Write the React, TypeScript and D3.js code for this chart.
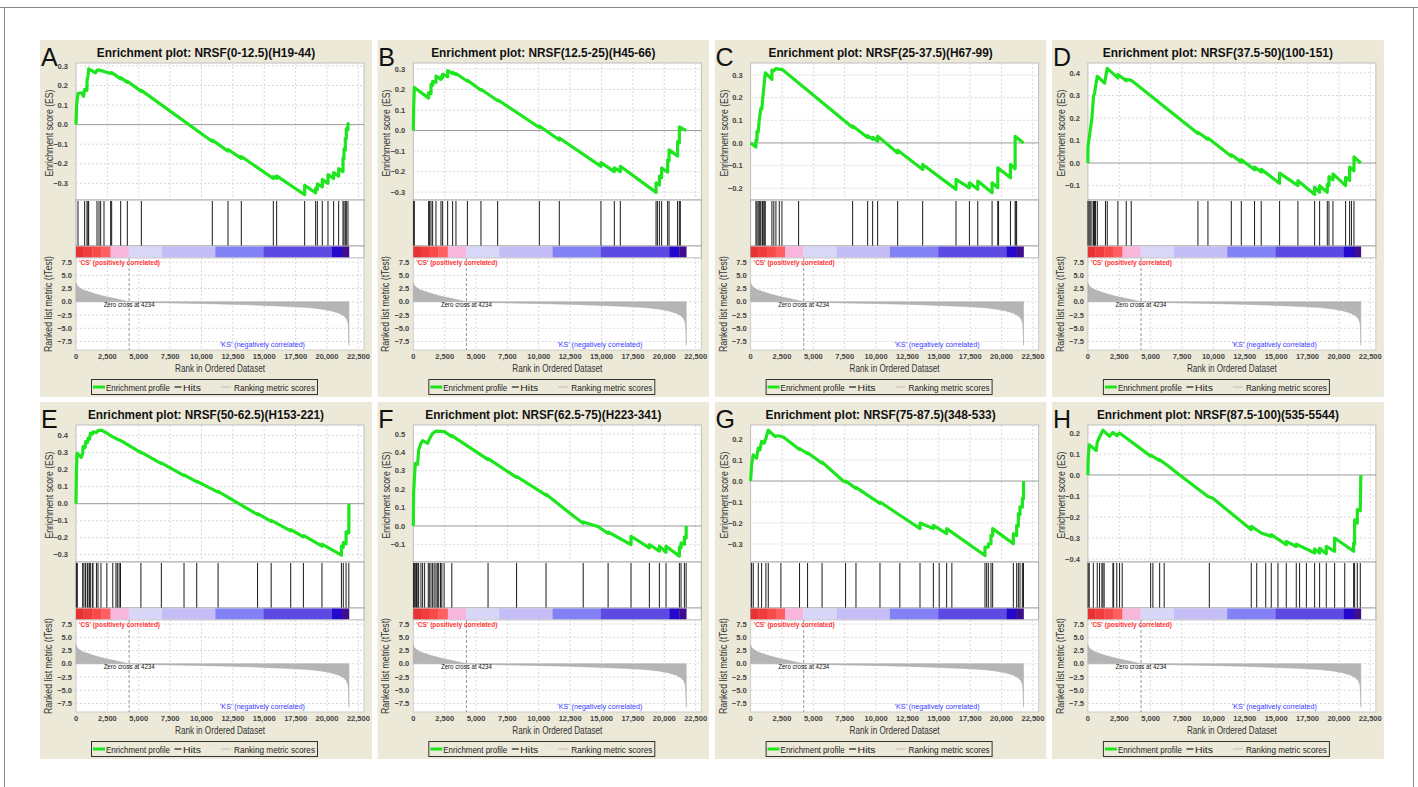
import React from 'react';
import * as d3 from 'd3';

const W = 1418;
const H = 787;
const FONT = '"Liberation Sans", Arial, Helvetica, sans-serif';

// ranked list (shared by all panels)
const N_GENES = 21750;
const X_MAX = 22950;
const ZERO_CROSS = 4234;
const X_TICKS = [0, 2500, 5000, 7500, 10000, 12500, 15000, 17500, 20000, 22500];
const METRIC_TICKS = [7.5, 5, 2.5, 0, -2.5, -5, -7.5];
const METRIC_RANKS = [0, 50, 200, 500, 1000, 1500, 2000, 2500, 3000, 3500, 4234, 5000, 6500, 8500, 10500, 12800, 15000, 17000, 18500, 19500, 20300, 20900, 21300, 21550, 21680, 21720, 21750];
const METRIC_VALUES = [3.6, 3.2, 2.8, 2.3, 1.9, 1.5, 1.2, 0.9, 0.65, 0.4, 0, -0.1, -0.18, -0.26, -0.36, -0.5, -0.68, -0.9, -1.1, -1.35, -1.7, -2.1, -2.6, -3.2, -4.0, -5.5, -8.2];

const BAND_EDGES = [0, 600, 1300, 2000, 2750, 4200, 6850, 11100, 14950, 20400, 21200, 21750];
const BAND_COLORS = ['#e63232', '#f03c3c', '#f94a4a', '#ff5f5f', '#f9b6dc', '#d9d7f8', '#c5bdf6', '#8282f6', '#5c4ae2', '#2408cc', '#3e0e8e'];

const LETTERS = ['A', 'B', 'C', 'D', 'E', 'F', 'G', 'H'];
const TITLES = [
  'Enrichment plot: NRSF(0-12.5)(H19-44)',
  'Enrichment plot: NRSF(12.5-25)(H45-66)',
  'Enrichment plot: NRSF(25-37.5)(H67-99)',
  'Enrichment plot: NRSF(37.5-50)(100-151)',
  'Enrichment plot: NRSF(50-62.5)(H153-221)',
  'Enrichment plot: NRSF(62.5-75)(H223-341)',
  'Enrichment plot: NRSF(75-87.5)(348-533)',
  'Enrichment plot: NRSF(87.5-100)(535-5544)',
];

const ES_DOMAINS = [
  [-0.385, 0.315], [-0.338, 0.329], [-0.252, 0.353], [-0.164, 0.444],
  [-0.343, 0.463], [-0.196, 0.549], [-0.386, 0.267], [-0.414, 0.238],
];
const ES_TICKS = [
  [-0.3, -0.2, -0.1, 0, 0.1, 0.2, 0.3],
  [-0.3, -0.2, -0.1, 0, 0.1, 0.2, 0.3],
  [-0.2, -0.1, 0, 0.1, 0.2, 0.3],
  [-0.1, 0, 0.1, 0.2, 0.3, 0.4],
  [-0.3, -0.2, -0.1, 0, 0.1, 0.2, 0.3, 0.4],
  [-0.1, 0, 0.1, 0.2, 0.3, 0.4, 0.5],
  [-0.3, -0.2, -0.1, 0, 0.1, 0.2],
  [-0.4, -0.3, -0.2, -0.1, 0, 0.1, 0.2],
];

// running enrichment score, [rank, ES]
const ES_A = [[0, 0], [50, 0.10], [160, 0.16], [450, 0.163], [600, 0.145], [690, 0.18], [870, 0.175], [880, 0.225], [960, 0.25], [1010, 0.285], [1560, 0.265], [1673, 0.278], [1833, 0.28], [1965, 0.276], [2231, 0.272], [2762, 0.262], [2842, 0.266], [3559, 0.234], [3559, 0.24], [4090, 0.216], [4090, 0.222], [5206, 0.17], [5206, 0.175], [10863, -0.086], [10863, -0.079], [12112, -0.135], [12112, -0.127], [13174, -0.172], [13174, -0.163], [15724, -0.275], [15724, -0.265], [15990, -0.275], [15990, -0.262], [18221, -0.358], [18221, -0.31], [19097, -0.348], [19097, -0.326], [19230, -0.332], [19230, -0.302], [19628, -0.318], [19628, -0.28], [20080, -0.3], [20080, -0.255], [20531, -0.275], [20531, -0.245], [20930, -0.263], [20930, -0.225], [21275, -0.24], [21275, -0.17], [21355, -0.174], [21355, -0.125], [21461, -0.13], [21461, -0.07], [21540, -0.074], [21540, -0.02], [21673, -0.026], [21673, 0.005], [21750, 0]];
const ES_B = [[0, 0], [30, 0.105], [80, 0.21], [1222, 0.158], [1222, 0.185], [1410, 0.18], [1410, 0.225], [1540, 0.22], [1540, 0.24], [1807, 0.235], [1807, 0.265], [2205, 0.249], [2205, 0.262], [2340, 0.257], [2340, 0.275], [2737, 0.262], [2737, 0.292], [3134, 0.277], [3134, 0.283], [3400, 0.272], [3400, 0.278], [4310, 0.24], [4310, 0.245], [5393, 0.196], [5393, 0.201], [6721, 0.145], [6721, 0.15], [10044, 0.015], [10044, 0.022], [11634, -0.046], [11634, -0.036], [14955, -0.174], [14955, -0.156], [16019, -0.2], [16019, -0.182], [16497, -0.2], [16497, -0.174], [19343, -0.301], [19343, -0.254], [19610, -0.265], [19610, -0.222], [19790, -0.23], [19790, -0.182], [20270, -0.202], [20270, -0.142], [20380, -0.146], [20380, -0.094], [21060, -0.124], [21060, -0.054], [21200, -0.06], [21200, 0.018], [21750, 0]];
const ES_C = [[0, 0], [425, -0.018], [425, 0.012], [505, 0.01], [505, 0.051], [600, 0.047], [690, 0.102], [824, 0.154], [900, 0.15], [956, 0.19], [1089, 0.264], [1169, 0.31], [1700, 0.281], [1700, 0.322], [1850, 0.318], [2019, 0.329], [2285, 0.325], [2497, 0.325], [8131, 0.068], [8131, 0.075], [9327, 0.024], [9327, 0.032], [9726, 0.016], [9726, 0.025], [10124, 0.008], [10124, 0.03], [11719, -0.044], [11719, -0.032], [13713, -0.117], [13713, -0.095], [16370, -0.205], [16370, -0.161], [17438, -0.198], [17438, -0.176], [18102, -0.205], [18102, -0.168], [19244, -0.22], [19244, -0.176], [19696, -0.198], [19696, -0.11], [20707, -0.154], [20707, -0.095], [21079, -0.114], [21079, 0.029], [21750, 0]];
const ES_D = [[0, 0], [10, 0.072], [185, 0.146], [320, 0.2], [450, 0.296], [530, 0.31], [610, 0.34], [750, 0.385], [1328, 0.355], [1541, 0.42], [2391, 0.378], [2391, 0.393], [3055, 0.365], [3055, 0.372], [3454, 0.367], [8768, 0.131], [8768, 0.137], [9566, 0.105], [9566, 0.111], [11426, 0.03], [11426, 0.037], [12223, 0.004], [12223, 0.015], [13279, -0.03], [13279, -0.018], [13811, -0.04], [13811, -0.028], [15276, -0.09], [15276, -0.045], [16737, -0.1], [16737, -0.078], [18066, -0.14], [18066, -0.107], [18465, -0.13], [18465, -0.1], [19076, -0.13], [19076, -0.095], [19209, -0.1], [19209, -0.06], [19528, -0.074], [19528, -0.048], [20537, -0.1], [20537, -0.063], [20856, -0.077], [20856, -0.018], [21202, -0.034], [21202, 0.027], [21750, 0]];
const ES_E = [[0, 0], [30, 0.18], [90, 0.297], [425, 0.273], [543, 0.3], [558, 0.336], [723, 0.33], [770, 0.365], [904, 0.36], [956, 0.384], [1085, 0.38], [1142, 0.414], [1302, 0.41], [1355, 0.423], [1628, 0.418], [1753, 0.43], [2019, 0.433], [2460, 0.415], [2683, 0.404], [2930, 0.393], [3347, 0.378], [3545, 0.372], [5172, 0.3], [5172, 0.304], [6801, 0.236], [6801, 0.24], [8608, 0.165], [8608, 0.17], [9621, 0.128], [9621, 0.132], [10257, 0.108], [11321, 0.068], [11321, 0.073], [13447, -0.02], [14468, -0.064], [14468, -0.058], [15553, -0.104], [15553, -0.098], [17108, -0.16], [17108, -0.152], [18121, -0.195], [18121, -0.187], [19600, -0.25], [19600, -0.238], [21150, -0.303], [21150, -0.25], [21300, -0.256], [21300, -0.228], [21520, -0.236], [21520, -0.165], [21740, -0.172], [21750, 0]];
const ES_F = [[0, 0], [27, 0.179], [80, 0.25], [159, 0.34], [345, 0.335], [425, 0.413], [611, 0.45], [744, 0.464], [1142, 0.45], [1275, 0.471], [1541, 0.504], [1807, 0.516], [2471, 0.513], [3069, 0.486], [3069, 0.491], [5957, 0.361], [5957, 0.366], [8231, 0.264], [8231, 0.269], [10177, 0.185], [10578, 0.167], [10578, 0.172], [12833, 0.05], [13538, 0.015], [13538, 0.022], [14693, -0.003], [15523, -0.04], [15523, -0.033], [17350, -0.101], [17350, -0.056], [18811, -0.119], [18811, -0.101], [19608, -0.137], [19608, -0.11], [20140, -0.143], [20140, -0.11], [21203, -0.164], [21203, -0.115], [21336, -0.12], [21336, -0.092], [21602, -0.1], [21602, -0.06], [21740, -0.066], [21750, 0]];
const ES_G = [[0, 0], [80, 0.077], [213, 0.125], [478, 0.109], [611, 0.157], [744, 0.149], [877, 0.189], [1089, 0.181], [1222, 0.205], [1408, 0.242], [1940, 0.213], [2205, 0.216], [2604, 0.21], [3900, 0.15], [3900, 0.155], [4541, 0.13], [4541, 0.135], [5694, 0.085], [5694, 0.09], [7385, 0.0], [7568, -0.005], [7568, 0.0], [8397, -0.035], [8397, -0.03], [9911, -0.091], [10310, -0.107], [10310, -0.1], [11900, -0.163], [13500, -0.227], [13500, -0.2], [14563, -0.227], [14563, -0.211], [15623, -0.251], [15623, -0.227], [18678, -0.355], [18678, -0.315], [18944, -0.315], [18944, -0.299], [19156, -0.3], [19156, -0.259], [19290, -0.26], [19290, -0.227], [20937, -0.299], [20937, -0.251], [21203, -0.26], [21203, -0.211], [21336, -0.215], [21336, -0.155], [21469, -0.16], [21469, -0.123], [21655, -0.125], [21655, -0.083], [21745, -0.085], [21750, 0]];
const ES_H = [[0, 0], [20, 0.073], [106, 0.144], [664, 0.117], [744, 0.155], [930, 0.181], [1196, 0.213], [1727, 0.184], [1993, 0.203], [2311, 0.187], [2524, 0.2], [5000, 0.09], [5000, 0.095], [5719, 0.068], [5719, 0.073], [6376, 0.044], [7306, 0.0], [9564, -0.102], [9700, -0.105], [9963, -0.111], [13018, -0.26], [13018, -0.244], [13815, -0.276], [14612, -0.292], [14612, -0.284], [15808, -0.332], [15808, -0.316], [16605, -0.34], [16605, -0.329], [18066, -0.371], [18066, -0.352], [18465, -0.371], [18465, -0.348], [18996, -0.375], [18996, -0.34], [19661, -0.363], [19661, -0.3], [21175, -0.363], [21175, -0.324], [21255, -0.33], [21255, -0.213], [21467, -0.229], [21467, -0.165], [21706, -0.17], [21750, 0]];

// gene set members (ranks)
const HITS_A = [159, 690, 876, 956, 1009, 1673, 1833, 1965, 2231, 2762, 2842, 3559, 4090, 5206, 10863, 12112, 13174, 15724, 15990, 18221, 19097, 19230, 19628, 20080, 20531, 20930, 21275, 21355, 21461, 21540, 21673];
const HITS_B = [30, 80, 1222, 1300, 1410, 1540, 1807, 2205, 2340, 2737, 3134, 3400, 4310, 5393, 6721, 10044, 11634, 14955, 16019, 16497, 19343, 19450, 19610, 19790, 20270, 20380, 21060, 21200, 21280];
const HITS_C = [425, 505, 600, 690, 760, 824, 956, 1000, 1089, 1169, 1700, 1850, 2019, 2285, 2497, 3826, 8131, 9327, 9726, 10124, 11719, 13713, 16370, 17438, 18102, 19244, 19696, 19760, 20707, 21079, 21140, 21200];
const HITS_D = [10, 100, 185, 320, 450, 530, 610, 750, 1400, 1541, 2391, 3055, 3454, 8768, 9566, 11426, 12223, 13279, 13811, 15276, 16737, 18066, 18465, 19076, 19209, 19528, 20537, 20856, 21000, 21202];
const HITS_E = [30, 108, 543, 558, 723, 770, 904, 956, 1085, 1142, 1302, 1355, 1628, 1753, 1989, 2460, 2930, 3183, 3291, 3436, 3545, 5172, 6801, 8608, 9621, 11321, 14468, 15553, 17108, 18121, 19600, 21150, 21300, 21520, 21740];
const HITS_F = [27, 80, 159, 253, 361, 425, 611, 744, 903, 1191, 1275, 1408, 1541, 1661, 1807, 1913, 2022, 2166, 2274, 2455, 3069, 5957, 8231, 10578, 13538, 15523, 17350, 18811, 19608, 20140, 21203, 21336, 21602, 21740];
const HITS_G = [80, 213, 611, 877, 1222, 1408, 2415, 3900, 4541, 5694, 7568, 8397, 10310, 11893, 13500, 14563, 15029, 15623, 16038, 18678, 18811, 18944, 19156, 19290, 20937, 21203, 21336, 21469, 21655, 21745];
const HITS_H = [20, 106, 432, 744, 930, 1115, 1196, 1295, 1993, 2050, 2302, 2524, 2734, 5000, 5180, 5719, 6079, 9676, 13018, 13453, 14172, 14612, 15144, 15808, 16605, 16870, 17410, 18066, 18465, 18996, 19661, 20467, 21175, 21255, 21467, 21706];

const ES_SERIES = [ES_A, ES_B, ES_C, ES_D, ES_E, ES_F, ES_G, ES_H];
const HIT_SERIES = [HITS_A, HITS_B, HITS_C, HITS_D, HITS_E, HITS_F, HITS_G, HITS_H];

const BEIGE = '#ece9d9';
const GRID = '#d9d9d9';
const GREEN = '#1ee61e';

function Panel({ idx, px, py }) {
  const L = px + 36;
  const R = px + 324;
  const esTop = py + 23;
  const esBot = py + 160;
  const hitBot = py + 206;
  const barBot = py + 218;
  const metBot = py + 310;

  const x = d3.scaleLinear().domain([0, X_MAX]).range([L, R]);
  const y = d3.scaleLinear().domain(ES_DOMAINS[idx]).range([esBot, esTop]);
  const m = d3.scaleLinear().domain([-9.1, 8.26]).range([metBot, barBot]);

  const esLine = d3.line().x((d) => x(d[0])).y((d) => y(d[1]));
  const metArea = d3.area()
    .x((_, i) => x(METRIC_RANKS[i]))
    .y0(m(0))
    .y1((d) => m(d));

  const fmt = d3.format('.1f');
  const fmtX = d3.format(',');
  const clipId = `clip-${idx}`;
  const legY = py + 347;

  return (
    <g fontFamily={FONT}>
      <defs>
        <clipPath id={clipId}>
          <rect x={px} y={py} width={332} height={357} />
        </clipPath>
      </defs>
      <g clipPath={`url(#${clipId})`}>
        <rect x={px} y={py} width={332} height={357} fill={BEIGE} />
        <text x={px + 1} y={py + 26} fontSize={25} fill="#111">{LETTERS[idx]}</text>
        <text x={px + 166} y={py + 17} fontSize={13} fontWeight="bold" textAnchor="middle"
          textLength={TITLES[idx].length * 5.9} lengthAdjust="spacingAndGlyphs" fill="#111">
          {TITLES[idx]}
        </text>

        {/* ES plot */}
        <rect x={L} y={esTop} width={R - L} height={esBot - esTop} fill="#fff" stroke="#bdbdbd" />
        {X_TICKS.slice(1).map((t) => (
          <line key={`gx${t}`} x1={x(t)} x2={x(t)} y1={esTop} y2={esBot} stroke={GRID} strokeDasharray="2,2" />
        ))}
        {ES_TICKS[idx].map((t) => (
          <g key={`gy${t}`}>
            {t !== 0 && <line x1={L} x2={R} y1={y(t)} y2={y(t)} stroke={GRID} strokeDasharray="2,2" />}
            <text x={px + 28} y={y(t)} dy="0.35em" fontSize={7.5} fontWeight="bold" textAnchor="end" fill="#444">{fmt(t)}</text>
          </g>
        ))}
        <line x1={L} x2={R} y1={y(0)} y2={y(0)} stroke="#999" />
        <path d={esLine(ES_SERIES[idx])} fill="none" stroke={GREEN} strokeWidth={3.2} strokeLinejoin="round" />
        <text transform={`translate(${px + 13},${py + 93}) rotate(-90)`} fontSize={10} textAnchor="middle"
          textLength={87} lengthAdjust="spacingAndGlyphs" fill="#333">Enrichment score (ES)</text>

        {/* hits */}
        <rect x={L} y={esBot} width={R - L} height={hitBot - esBot} fill="#fff" stroke="#aaa" />
        {HIT_SERIES[idx].map((r, i) => (
          <line key={`h${i}`} x1={x(r)} x2={x(r)} y1={esBot + 1} y2={hitBot} stroke="#1a1a1a" strokeWidth={1} />
        ))}

        {/* ranked list colour bar */}
        <rect x={L} y={hitBot} width={R - L} height={barBot - hitBot} fill="#fff" stroke="#aaa" />
        {BAND_COLORS.map((c, i) => (
          <rect key={`b${i}`} x={x(BAND_EDGES[i])} y={hitBot + 0.5} width={x(BAND_EDGES[i + 1]) - x(BAND_EDGES[i]) + 0.3}
            height={barBot - hitBot - 1} fill={c} />
        ))}

        {/* ranked metric plot */}
        <rect x={L} y={barBot} width={R - L} height={metBot - barBot} fill="#fff" stroke="#ccc" />
        {X_TICKS.slice(1).map((t) => (
          <line key={`mx${t}`} x1={x(t)} x2={x(t)} y1={barBot} y2={metBot} stroke={GRID} strokeDasharray="2,2" />
        ))}
        {METRIC_TICKS.map((t) => (
          <g key={`my${t}`}>
            <line x1={L} x2={R} y1={m(t)} y2={m(t)} stroke={GRID} strokeDasharray="2,2" />
            <text x={px + 32} y={m(t)} dy="0.35em" fontSize={7.5} fontWeight="bold" textAnchor="end" fill="#444">{fmt(t)}</text>
          </g>
        ))}
        <path d={metArea(METRIC_VALUES)} fill="#b5b5b5" stroke="#aaa" strokeWidth={0.5} />
        <line x1={x(ZERO_CROSS)} x2={x(ZERO_CROSS)} y1={barBot} y2={metBot} stroke="#999" strokeDasharray="3,2" />
        <text x={px + 39} y={py + 225} fontSize={7} fontWeight="bold" fill="#ff3535"
          textLength={81} lengthAdjust="spacingAndGlyphs">{"'CS' (positively correlated)"}</text>
        <text x={x(ZERO_CROSS)} y={py + 267} fontSize={7} textAnchor="middle" fill="#111"
          textLength={51} lengthAdjust="spacingAndGlyphs">{`Zero cross at ${ZERO_CROSS}`}</text>
        <text x={px + 180} y={py + 307} fontSize={7} fill="#3a3aff"
          textLength={85} lengthAdjust="spacingAndGlyphs">{"'KS' (negatively correlated)"}</text>
        <text transform={`translate(${px + 12},${py + 264}) rotate(-90)`} fontSize={10} textAnchor="middle"
          textLength={96} lengthAdjust="spacingAndGlyphs" fill="#333">Ranked list metric (tTest)</text>

        {/* x axis */}
        {X_TICKS.map((t) => (
          <text key={`xt${t}`} x={x(t)} y={py + 319} fontSize={7.5} fontWeight="bold" textAnchor="middle" fill="#444">{fmtX(t)}</text>
        ))}
        <text x={(L + R) / 2} y={py + 332} fontSize={10} textAnchor="middle" fill="#333"
          textLength={90} lengthAdjust="spacingAndGlyphs">Rank in Ordered Dataset</text>

        {/* legend */}
        <rect x={px + 51.5} y={py + 339.5} width={226} height={15} fill="none" stroke="#333" />
        <line x1={px + 53} x2={px + 65} y1={legY} y2={legY} stroke={GREEN} strokeWidth={3} />
        <text x={px + 66} y={legY + 3.5} fontSize={9} fill="#222" textLength={64} lengthAdjust="spacingAndGlyphs">Enrichment profile</text>
        <line x1={px + 134.5} x2={px + 141.5} y1={legY} y2={legY} stroke="#444" strokeWidth={1.5} />
        <text x={px + 143} y={legY + 3.5} fontSize={9} fill="#222" textLength={18} lengthAdjust="spacingAndGlyphs">Hits</text>
        <line x1={px + 168} x2={px + 175} y1={legY - 3} y2={legY - 3} stroke="#e0e0e0" strokeWidth={1} />
        <line x1={px + 181} x2={px + 191} y1={legY} y2={legY} stroke="#c8c8c8" strokeWidth={1.5} />
        <text x={px + 194} y={legY + 3.5} fontSize={9} fill="#222" textLength={81} lengthAdjust="spacingAndGlyphs">Ranking metric scores</text>
      </g>
    </g>
  );
}

export default function App() {
  const cols = [0, 1, 2, 3].map((i) => 40 + i * 337.3);
  const rows = [40, 402];
  return (
    <div style={{ position: 'absolute', left: 0, top: 0 }}>
      <svg width={W} height={H} style={{ display: 'block', background: '#fff' }}>
        <line x1={0} x2={W} y1={7.5} y2={7.5} stroke="#8a8a8a" strokeWidth={1.2} />
        <line x1={4.5} x2={4.5} y1={7.5} y2={H} stroke="#8a8a8a" />
        <line x1={1413.5} x2={1413.5} y1={7.5} y2={H} stroke="#8a8a8a" />
        {LETTERS.map((_, i) => (
          <Panel key={i} idx={i} px={cols[i % 4]} py={rows[Math.floor(i / 4)]} />
        ))}
      </svg>
    </div>
  );
}
